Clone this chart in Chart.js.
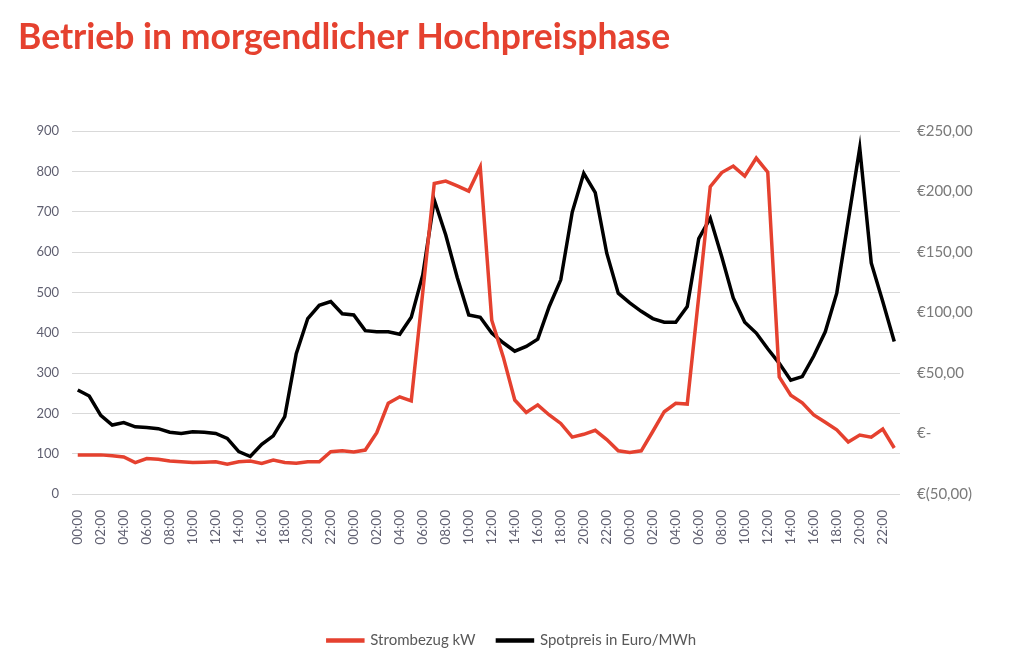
<!DOCTYPE html>
<html>
<head>
<meta charset="utf-8">
<script src="https://cdn.jsdelivr.net/npm/chart.js@4.4.1/dist/chart.umd.min.js"></script>
<style>
  html, body { margin: 0; padding: 0; background: #fff; }
  #wrap { position: relative; width: 1024px; height: 669px; }
  #title {
    position: absolute; left: 18px; top: 14px;
    font-family: Lato, "DejaVu Sans", sans-serif; font-weight: bold;
    font-size: 35.5px; color: #e5412f; white-space: nowrap;
  }
  #Chart { position: absolute; left: 0; top: 0; }
</style>
</head>
<body>
<div id="wrap">
  <canvas id="Chart" width="1024" height="669"></canvas>
  <div id="title">Betrieb in morgendlicher Hochpreisphase</div>
</div>
<script>
const hours = ['00:00','01:00','02:00','03:00','04:00','05:00','06:00','07:00','08:00','09:00','10:00','11:00',
               '12:00','13:00','14:00','15:00','16:00','17:00','18:00','19:00','20:00','21:00','22:00','23:00'];
const categories = [...hours, ...hours, ...hours];

// Strombezug kW (linke Achse)
const strombezug = [
  97, 97, 97, 95, 92, 78, 88, 86, 82, 80, 78, 79, 80, 74, 80, 82, 76, 84, 78, 76, 80, 80, 105, 107,
  104, 109, 152, 225, 241, 231, 500, 770, 776, 764, 751, 811, 431, 340, 233, 202, 221, 196, 175, 141, 148, 158, 135, 107,
  103, 107, 155, 204, 225, 223, 490, 762, 797, 813, 788, 833, 798, 290, 245, 226, 196, 178, 159, 129, 146, 141, 161, 114
];

// Spotpreis in Euro/MWh (rechte Achse)
const spotpreis = [
  36, 31, 15, 7, 9, 5.5, 5, 4, 1, 0, 1.5, 1, 0, -4, -15, -19, -9, -2, 14, 66, 95, 106, 109, 99,
  98, 85, 84, 84, 82, 96, 131, 193, 164, 129, 98, 96, 83, 75, 68, 72, 78, 105, 127, 183, 215, 199, 149, 116,
  108, 101, 95, 92, 92, 105, 161, 178, 146, 112, 92, 83, 70, 58, 44, 47, 64, 84, 116, 176, 236, 141, 109, 76
];

const leftTicks = { min: 0, max: 900, step: 100 };
const rightTicks = { min: -50, max: 250, step: 50 };

function euro(v) {
  if (v === 0) return '€-';
  const s = Math.abs(v).toFixed(2).replace('.', ',');
  return v < 0 ? '€(' + s + ')' : '€' + s;
}

const fontFam = 'Lato, "DejaVu Sans", sans-serif';
const ctx = document.getElementById('Chart').getContext('2d');
const chart = new Chart(ctx, {
  type: 'line',
  data: {
    labels: categories,
    datasets: [{
      label: 'Strombezug kW',
      data: strombezug,
      borderColor: '#e5412f',
      backgroundColor: '#e5412f',
      borderWidth: 3.5,
      pointRadius: 0,
      tension: 0,
      yAxisID: 'y'
    }, {
      label: 'Spotpreis in Euro/MWh',
      data: spotpreis,
      borderColor: '#000000',
      backgroundColor: '#000000',
      borderWidth: 3.5,
      pointRadius: 0,
      tension: 0,
      yAxisID: 'y1'
    }]
  },
  options: {
    responsive: false,
    animation: false,
    layout: { padding: { top: 131, bottom: 11, left: 0, right: 0 } },
    plugins: {
      tooltip: { enabled: false },
      legend: {
        position: 'bottom',
        labels: {
          boxWidth: 35,
          boxHeight: 1,
          padding: 22,
          color: '#595959',
          font: { family: fontFam, size: 15 }
        }
      }
    },
    scales: {
      x: {
        offset: true,
        grid: { display: false },
        border: { display: false },
        ticks: {
          autoSkip: false,
          minRotation: 90,
          maxRotation: 90,
          padding: 8,
          color: '#5f5f70',
          font: { family: fontFam, size: 13.5 },
          callback: function(value, index) {
            return index % 2 === 0 ? this.getLabelForValue(value) : '';
          }
        },
        afterFit: function(scale) { scale.height = 117; }
      },
      y: {
        position: 'left',
        min: leftTicks.min,
        max: leftTicks.max,
        grid: { color: '#d9d9d9', lineWidth: 1, drawTicks: false },
        border: { display: false },
        ticks: {
          stepSize: leftTicks.step,
          padding: 13,
          color: '#5f5f70',
          font: { family: fontFam, size: 13 }
        },
        afterFit: function(scale) { scale.width = 72; }
      },
      y1: {
        position: 'right',
        min: rightTicks.min,
        max: rightTicks.max,
        grid: { display: false },
        border: { display: false },
        ticks: {
          stepSize: rightTicks.step,
          padding: 9,
          color: '#7a7a7a',
          font: { family: fontFam, size: 15 },
          callback: function(value) { return euro(value); }
        },
        afterFit: function(scale) { scale.width = 124; }
      }
    }
  }
});
</script>
</body>
</html>
